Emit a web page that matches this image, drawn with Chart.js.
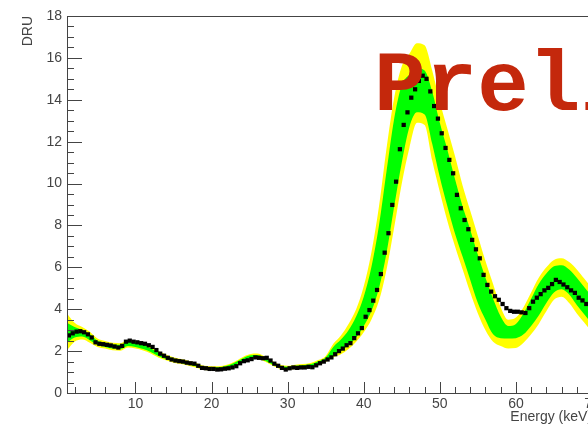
<!DOCTYPE html>
<html>
<head>
<meta charset="utf-8">
<script src="https://cdn.jsdelivr.net/npm/chart.js@4.4.1/dist/chart.umd.min.js"></script>
<style>
html, body { margin: 0; padding: 0; background: #fff; overflow: hidden; }
#wrap { width: 588px; height: 427px; overflow: hidden; }
canvas { display: block; }
</style>
</head>
<body>
<div id="wrap"><canvas id="dru_chart" width="620" height="427"></canvas></div>
<script>
// measured spectrum, 0.5 keV bins
const energy = [
  1.25, 1.75, 2.25, 2.75, 3.25, 3.75, 4.25, 4.75, 5.25, 5.75,
  6.25, 6.75, 7.25, 7.75, 8.25, 8.75, 9.25, 9.75, 10.25, 10.75,
  11.25, 11.75, 12.25, 12.75, 13.25, 13.75, 14.25, 14.75, 15.25, 15.75,
  16.25, 16.75, 17.25, 17.75, 18.25, 18.75, 19.25, 19.75, 20.25, 20.75,
  21.25, 21.75, 22.25, 22.75, 23.25, 23.75, 24.25, 24.75, 25.25, 25.75,
  26.25, 26.75, 27.25, 27.75, 28.25, 28.75, 29.25, 29.75, 30.25, 30.75,
  31.25, 31.75, 32.25, 32.75, 33.25, 33.75, 34.25, 34.75, 35.25, 35.75,
  36.25, 36.75, 37.25, 37.75, 38.25, 38.75, 39.25, 39.75, 40.25, 40.75,
  41.25, 41.75, 42.25, 42.75, 43.25, 43.75, 44.25, 44.75, 45.25, 45.75,
  46.25, 46.75, 47.25, 47.75, 48.25, 48.75, 49.25, 49.75, 50.25, 50.75,
  51.25, 51.75, 52.25, 52.75, 53.25, 53.75, 54.25, 54.75, 55.25, 55.75,
  56.25, 56.75, 57.25, 57.75, 58.25, 58.75, 59.25, 59.75, 60.25, 60.75,
  61.25, 61.75, 62.25, 62.75, 63.25, 63.75, 64.25, 64.75, 65.25, 65.75,
  66.25, 66.75, 67.25, 67.75, 68.25, 68.75, 69.25, 69.75
];
const dru = [
  2.75, 2.85, 2.93, 2.95, 2.9, 2.8, 2.65, 2.42, 2.35, 2.33,
  2.3, 2.27, 2.22, 2.17, 2.25, 2.45, 2.5, 2.45, 2.42, 2.38,
  2.35, 2.28, 2.2, 2.05, 1.88, 1.78, 1.68, 1.6, 1.55, 1.52,
  1.5, 1.45, 1.42, 1.4, 1.3, 1.2, 1.18, 1.15, 1.15, 1.12,
  1.13, 1.16, 1.18, 1.22, 1.28, 1.42, 1.52, 1.56, 1.62, 1.7,
  1.68, 1.66, 1.68, 1.55, 1.4, 1.3, 1.2, 1.12, 1.18, 1.22,
  1.2, 1.22, 1.22, 1.25, 1.23, 1.32, 1.42, 1.5, 1.6, 1.7,
  1.85, 2.0, 2.12, 2.28, 2.38, 2.62, 2.85, 3.1, 3.64, 3.96,
  4.41, 4.92, 5.68, 6.7, 7.63, 8.98, 10.09, 11.64, 12.8, 13.4,
  14.1, 14.5, 14.9, 15.15, 15.0, 14.4, 13.7, 13.1, 12.4, 11.7,
  11.13, 10.49, 9.46, 8.82, 8.26, 7.82, 7.31, 6.86, 6.43, 5.64,
  5.16, 4.84, 4.62, 4.45, 4.25, 4.05, 3.92, 3.88, 3.88, 3.85,
  3.82, 4.05, 4.36, 4.55, 4.72, 4.9, 5.02, 5.2, 5.4, 5.3,
  5.18, 5.05, 4.9, 4.78, 4.55, 4.42, 4.25, 4.1
];

// expectation bands (1 sigma green, 2 sigma yellow), 1 keV steps
const bandEnergy = [
  1, 2, 3, 4, 5, 6, 7, 8, 9, 10, 11, 12, 13, 14, 15, 16, 17, 18, 19, 20,
  21, 22, 23, 24, 25, 26, 27, 28, 29, 30, 31, 32, 33, 34, 35, 36, 37, 38, 39, 40,
  41, 42, 43, 44, 45, 46, 47, 48, 49, 50, 51, 52, 53, 54, 55, 56, 57, 58, 59, 60,
  61, 62, 63, 64, 65, 66, 67, 68, 69, 70
];
const yellowLow = [
  2.05, 2.45, 2.55, 2.4, 2.2, 2.12, 2.04, 2.02, 2.17, 2.12,
  2.03, 1.89, 1.7, 1.56, 1.45, 1.38, 1.3, 1.21, 1.1, 1.08,
  1.08, 1.15, 1.27, 1.46, 1.59, 1.62, 1.5, 1.31, 1.15, 1.1,
  1.15, 1.18, 1.21, 1.33, 1.48, 1.7, 1.85, 2.1, 2.45, 2.9,
  3.5, 4.4, 5.9, 7.9, 10.0, 11.7, 12.9, 12.8, 11.1, 9.6,
  8.2, 7.0, 5.9, 4.8, 3.8, 3.0, 2.45, 2.25, 2.13, 2.15,
  2.4, 2.8, 3.3, 3.9, 4.45, 4.6, 4.3, 3.8, 3.35, 2.9
];
const greenLow = [
  2.4, 2.65, 2.7, 2.52, 2.3, 2.2, 2.12, 2.1, 2.25, 2.2,
  2.1, 1.96, 1.77, 1.62, 1.51, 1.43, 1.36, 1.26, 1.15, 1.13,
  1.13, 1.2, 1.32, 1.52, 1.65, 1.68, 1.55, 1.36, 1.2, 1.15,
  1.2, 1.23, 1.27, 1.39, 1.55, 1.8, 2.0, 2.3, 2.65, 3.2,
  3.9, 5.0, 6.7, 8.9, 11.0, 12.7, 13.4, 13.3, 11.9, 10.3,
  8.9, 7.6, 6.5, 5.4, 4.3, 3.5, 2.8, 2.62, 2.6, 2.62,
  2.8, 3.2, 3.7, 4.3, 4.8, 4.95, 4.7, 4.2, 3.75, 3.3
];
const greenHigh = [
  3.35, 3.15, 3.0, 2.8, 2.5, 2.4, 2.32, 2.3, 2.45, 2.4,
  2.3, 2.14, 1.93, 1.78, 1.65, 1.57, 1.48, 1.38, 1.25, 1.23,
  1.23, 1.3, 1.44, 1.64, 1.79, 1.82, 1.69, 1.48, 1.3, 1.25,
  1.3, 1.33, 1.37, 1.51, 1.7, 2.2, 2.55, 3.0, 3.65, 4.6,
  6.0, 8.0, 10.6, 13.1, 14.7, 15.2, 15.5, 15.4, 14.4, 12.9,
  11.6, 10.2, 8.9, 7.8, 6.6, 5.5, 4.5, 3.65, 3.2, 3.3,
  3.8, 4.5, 5.2, 5.7, 6.05, 6.1, 5.9, 5.5, 5.05, 4.6
];
const yellowHigh = [
  3.8, 3.35, 3.15, 2.92, 2.6, 2.48, 2.4, 2.38, 2.53, 2.48,
  2.37, 2.21, 2.0, 1.84, 1.71, 1.62, 1.54, 1.43, 1.3, 1.28,
  1.28, 1.35, 1.49, 1.7, 1.85, 1.88, 1.74, 1.53, 1.35, 1.3,
  1.35, 1.38, 1.43, 1.57, 1.77, 2.35, 2.75, 3.3, 4.0, 5.1,
  6.7, 8.9, 11.7, 14.1, 15.6, 16.2, 16.7, 16.6, 15.4, 13.9,
  12.6, 11.3, 9.9, 8.7, 7.5, 6.3, 5.2, 4.1, 3.5, 3.6,
  4.1, 4.8, 5.5, 6.0, 6.35, 6.43, 6.25, 5.9, 5.45, 5.0
];

const xTicks = [10, 20, 30, 40, 50, 60, 70];
const yTicks = [0, 2, 4, 6, 8, 10, 12, 14, 16, 18];

function pts(xs, ys) {
  return xs.map((x, i) => ({ x: x, y: ys[i] }));
}

const axisColor = '#444';
const font = { family: '"Liberation Sans", Arial, Helvetica, sans-serif', size: 14 };

// ROOT style frame with inward ticks + the stamp
const rootFrame = {
  id: 'rootFrame',
  afterDraw(chart) {
    const { ctx, chartArea: a, scales: { x, y } } = chart;
    ctx.save();
    ctx.strokeStyle = axisColor;
    ctx.lineWidth = 1;
    ctx.beginPath();
    ctx.rect(a.left + 0.5, a.top + 0.5, a.right - a.left, a.bottom - a.top);
    for (let v = 0; v <= 18; v += 0.5) {
      const p = Math.round(y.getPixelForValue(v)) + 0.5;
      const len = yTicks.includes(v) ? 15 : 7;
      ctx.moveTo(a.left, p);
      ctx.lineTo(a.left + len, p);
    }
    for (let v = 2; v <= 70; v += 2) {
      const p = Math.round(x.getPixelForValue(v)) + 0.5;
      const len = xTicks.includes(v) ? 11 : 6;
      ctx.moveTo(p, a.bottom);
      ctx.lineTo(p, a.bottom - len);
    }
    ctx.stroke();

    ctx.fillStyle = '#c4280c';
    ctx.font = 'bold 86px "Liberation Mono", "Courier New", monospace';
    ctx.textBaseline = 'alphabetic';
    ctx.fillText('Preliminary', 374, 110);
    ctx.restore();
  }
};

const ctx = document.getElementById('dru_chart');
const config = {
  type: 'scatter',
  data: {
    datasets: [
      {
        label: 'data',
        data: pts(energy, dru),
        pointStyle: 'rect',
        pointRadius: 3,
        backgroundColor: '#000',
        borderWidth: 0,
        showLine: false,
        order: 0
      },
      {
        label: '1 sigma low',
        data: pts(bandEnergy, greenLow),
        showLine: true,
        pointRadius: 0,
        borderWidth: 0,
        borderColor: 'rgba(0,0,0,0)',
        cubicInterpolationMode: 'monotone',
        fill: false,
        order: 1
      },
      {
        label: '1 sigma high',
        data: pts(bandEnergy, greenHigh),
        showLine: true,
        pointRadius: 0,
        borderWidth: 0,
        borderColor: 'rgba(0,0,0,0)',
        backgroundColor: '#00ff00',
        cubicInterpolationMode: 'monotone',
        fill: '-1',
        order: 1
      },
      {
        label: '2 sigma low',
        data: pts(bandEnergy, yellowLow),
        showLine: true,
        pointRadius: 0,
        borderWidth: 0,
        borderColor: 'rgba(0,0,0,0)',
        cubicInterpolationMode: 'monotone',
        fill: false,
        order: 2
      },
      {
        label: '2 sigma high',
        data: pts(bandEnergy, yellowHigh),
        showLine: true,
        pointRadius: 0,
        borderWidth: 0,
        borderColor: 'rgba(0,0,0,0)',
        backgroundColor: '#ffff00',
        cubicInterpolationMode: 'monotone',
        fill: '-1',
        order: 2
      }
    ]
  },
  options: {
    responsive: false,
    animation: false,
    devicePixelRatio: 1,
    layout: { padding: { top: 16, right: 28, bottom: 0, left: 0 } },
    plugins: {
      legend: { display: false },
      tooltip: { enabled: false }
    },
    scales: {
      x: {
        type: 'linear',
        min: 1,
        max: 70,
        grid: { display: false, drawTicks: false },
        border: { display: false },
        afterBuildTicks: s => { s.ticks = xTicks.map(v => ({ value: v })); },
        afterFit: s => { s.height = 34; },
        ticks: { font: font, color: axisColor, padding: 3, maxRotation: 0 },
        title: {
          display: true,
          text: 'Energy (keV)',
          align: 'end',
          font: font,
          color: axisColor,
          padding: { top: 0, bottom: 1 }
        }
      },
      y: {
        type: 'linear',
        min: 0,
        max: 18,
        grid: { display: false, drawTicks: false },
        border: { display: false },
        afterBuildTicks: s => { s.ticks = yTicks.map(v => ({ value: v })); },
        afterFit: s => { s.width = 67; },
        ticks: { font: font, color: axisColor, padding: 5 },
        title: {
          display: true,
          text: 'DRU',
          align: 'end',
          font: font,
          color: axisColor,
          padding: { top: 20, bottom: 0 }
        }
      }
    }
  },
  plugins: [rootFrame]
};
const druChart = new Chart(ctx, config);
</script>
</body>
</html>
